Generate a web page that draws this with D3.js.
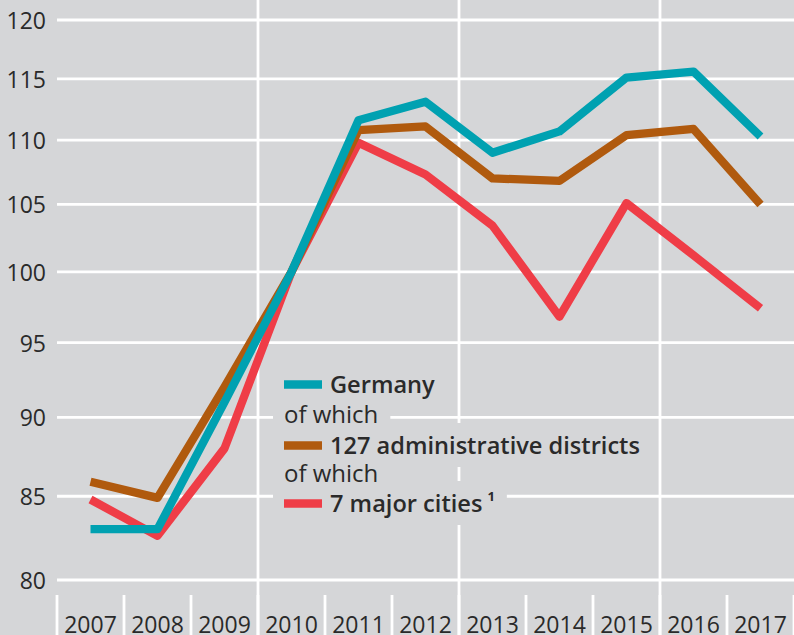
<!DOCTYPE html>
<html><head><meta charset="utf-8">
<script src="https://cdn.jsdelivr.net/npm/d3@7"></script>
<style>
html,body{margin:0;padding:0;background:#d5d6d8;}
svg{display:block;}
text{font-family:"Open Sans",sans-serif;fill:#2a2a2a;}
</style></head>
<body>
<svg id="c" width="794" height="635"></svg>
<script>
const years = [2007,2008,2009,2010,2011,2012,2013,2014,2015,2016,2017];
const germany   = [83.0, 83.0, 91.0, 100, 111.6, 113.1, 109.0, 110.7, 115.1, 115.6, 110.3];
const districts = [85.9, 84.9, 92.0, 100, 110.8, 111.1, 107.0, 106.8, 110.4, 110.9, 105.0];
const cities    = [84.8, 82.6, 88.0, 100, 109.8, 107.3, 103.4, 96.8, 105.1, 101.2, 97.4];
const yTicks = [80,85,90,95,100,105,110,115,120];
const gridYears = [2010, 2013, 2016];
const seriesNames = ["Germany", "127 administrative districts", "7 major cities"];
const colors = {"Germany":"#00a1b1","127 administrative districts":"#b05a0e","7 major cities":"#ef3d47"};

const svg = d3.select("#c");
const W = 794, H = 635;
const bg = "#d5d6d8";
const x = d3.scaleBand().domain(years).range([57, 794]);
const y = d3.scaleLog().domain([80,120]).range([580,20]);
const cx = d => x(d) + x.bandwidth()/2;

const gridG = svg.append("g");
const maskG = svg.append("g");
const linesG = svg.append("g");
const textG = svg.append("g");

// horizontal gridlines
gridG.append("g").selectAll("line").data(yTicks).join("line")
  .attr("x1",57).attr("x2",W).attr("y1",d=>y(d)).attr("y2",d=>y(d))
  .attr("stroke","#fff").attr("stroke-width",2.8);
// vertical gridlines
gridG.append("g").selectAll("line").data(gridYears).join("line")
  .attr("x1",d=>x(d)).attr("x2",d=>x(d)).attr("y1",0).attr("y2",H)
  .attr("stroke","#fff").attr("stroke-width",2.8);
// x separators
const seps = years.map(d=>x(d)).concat([x(years[years.length-1])+x.bandwidth()]);
gridG.append("g").selectAll("line").data(seps).join("line")
  .attr("x1",d=>d).attr("x2",d=>d).attr("y1",595).attr("y2",H)
  .attr("stroke","#fff").attr("stroke-width",2.8);

// y labels
textG.append("g").selectAll("text").data(yTicks).join("text")
  .attr("x",46).attr("y",d=>y(d)+9).attr("text-anchor","end")
  .attr("font-size",23).text(d=>d);
// x labels
textG.append("g").selectAll("text").data(years).join("text")
  .attr("x",d=>cx(d)).attr("y",633).attr("text-anchor","middle")
  .attr("font-size",23).text(d=>d);

// legend
const rows = [
  {t:"Germany", bold:true, s:"Germany", base:393},
  {t:"of which", bold:false, base:423},
  {t:"127 administrative districts", bold:true, s:"127 administrative districts", base:454},
  {t:"of which", bold:false, base:482},
  {t:"7 major cities", bold:true, s:"7 major cities", base:512, sup:"1"}
];
rows.forEach(r=>{
  const tx = r.bold ? 330 : 284;
  const t = textG.append("text").attr("x",tx).attr("y",r.base)
    .attr("font-size",r.bold?23.6:24).attr("font-weight",r.bold?600:400)
    .attr("fill", r.bold ? "#222" : "#333").text(r.t);
  if(r.sup){
    t.append("tspan").attr("dx",5).attr("dy",-11).attr("font-size",13).attr("font-weight",700).text(r.sup);
  }
  const bb = t.node().getBBox();
  maskG.append("rect").attr("x",273).attr("y",r.base-31)
    .attr("width",bb.x+bb.width+12-273).attr("height",44).attr("fill",bg);
  if(r.s){
    textG.append("line").attr("x1",284).attr("x2",322)
      .attr("y1",r.base-8.5).attr("y2",r.base-8.5)
      .attr("stroke",colors[r.s]).attr("stroke-width",8.7);
  }
});

// data lines
const data = {"Germany":germany,"127 administrative districts":districts,"7 major cities":cities};
const line = d3.line().x((d,i)=>cx(years[i])).y(d=>y(d));
const order = ["7 major cities","127 administrative districts","Germany"];
order.forEach(n=>{
  linesG.append("path").attr("d",line(data[n])).attr("fill","none")
    .attr("stroke",colors[n]).attr("stroke-width",8.3)
    .attr("stroke-linejoin","round").attr("stroke-linecap","butt");
});
</script>
</body></html>
